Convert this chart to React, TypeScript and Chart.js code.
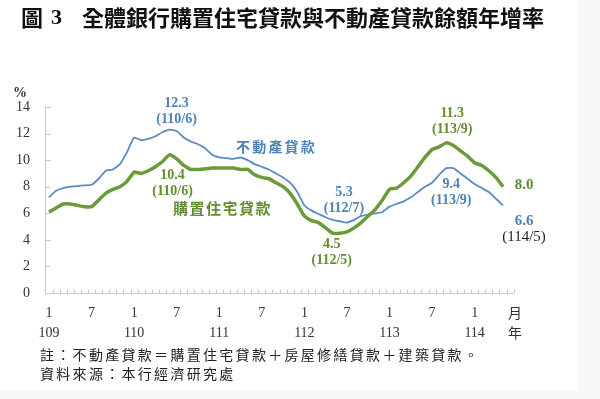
import React, { useEffect, useRef } from 'react';
import { Chart, registerables } from 'chart.js';

Chart.register(...registerables);

// ---- data ----
const years = ['109', '110', '111', '112', '113', '114'];
const lastYearMonths = 5; // data through 114/5

// 不動產貸款 (real-estate loans) yoy growth, %, monthly 109/1 – 114/5
const realEstateLoans = [
  7.2, 7.7, 7.9, 8.0, 8.05, 8.1, 8.15, 8.6, 9.2, 9.3,
  9.7, 10.6, 11.7, 11.5, 11.6, 11.8, 12.1, 12.3, 12.2, 11.7,
  11.4, 11.2, 10.9, 10.4, 10.2, 10.15, 10.1, 10.2, 10.0, 9.7,
  9.5, 9.3, 9.0, 8.7, 8.3, 7.6, 6.6, 6.2, 5.95, 5.7,
  5.5, 5.4, 5.3, 5.5, 5.8, 5.9, 6.0, 6.1, 6.5, 6.7,
  6.9, 7.2, 7.6, 8.0, 8.3, 8.9, 9.4, 9.4, 9.0, 8.6,
  8.2, 7.9, 7.6, 7.1, 6.6,
];

// 購置住宅貸款 (house-purchasing loans) yoy growth, %
const housingLoans = [
  6.1, 6.4, 6.7, 6.7, 6.6, 6.5, 6.5, 7.0, 7.5, 7.8,
  8.0, 8.4, 9.1, 9.0, 9.2, 9.5, 9.9, 10.4, 10.1, 9.6,
  9.3, 9.3, 9.35, 9.4, 9.4, 9.4, 9.4, 9.3, 9.3, 8.9,
  8.7, 8.6, 8.3, 8.0, 7.5, 6.7, 5.8, 5.45, 5.3, 4.9,
  4.5, 4.5, 4.6, 4.9, 5.3, 5.8, 6.3, 7.0, 7.8, 7.9,
  8.3, 8.8, 9.5, 10.2, 10.8, 11.0, 11.3, 11.1, 10.7, 10.3,
  9.8, 9.6, 9.2, 8.7, 8.0,
];

const yTicks = [0, 2, 4, 6, 8, 10, 12, 14];

const categories: string[] = [];
years.forEach((y, yi) => {
  const n = yi === years.length - 1 ? lastYearMonths : 12;
  for (let m = 1; m <= n; m++) categories.push(`${y}/${m}`);
});

const BLUE = '#5b8cc0';
const BLUE_TXT = '#4f80b6';
const GREEN = '#6a9b38';
const GREEN_TXT = '#5f8f30';

type Ann = { data: number[]; idx: number; lines: string[]; color: string[]; dx: number; dy: number };
const annotations: Ann[] = [
  { data: realEstateLoans, idx: 17, lines: ['12.3', '(110/6)'], color: [BLUE_TXT, BLUE_TXT], dx: 7, dy: -26 },
  { data: housingLoans, idx: 17, lines: ['10.4', '(110/6)'], color: [GREEN_TXT, GREEN_TXT], dx: 3, dy: 21 },
  { data: realEstateLoans, idx: 42, lines: ['5.3', '(112/7)'], color: [BLUE_TXT, BLUE_TXT], dx: -3, dy: -30 },
  { data: housingLoans, idx: 40, lines: ['4.5', '(112/5)'], color: [GREEN_TXT, GREEN_TXT], dx: -1, dy: 11 },
  { data: housingLoans, idx: 56, lines: ['11.3', '(113/9)'], color: [GREEN_TXT, GREEN_TXT], dx: 6, dy: -29 },
  { data: realEstateLoans, idx: 56, lines: ['9.4', '(113/9)'], color: [BLUE_TXT, BLUE_TXT], dx: 5, dy: 16 },
];

const decor = {
  id: 'decor',
  beforeDraw(chart: any) {
    const ctx = chart.ctx as CanvasRenderingContext2D;
    ctx.save();
    ctx.fillStyle = '#f6f7f9';
    ctx.fillRect(0, 0, chart.width, chart.height);
    ctx.fillStyle = '#ffffff';
    ctx.fillRect(0, 0, 578, 391);

    const xs = chart.scales.x;
    const ys = chart.scales.y;
    const step = xs.getPixelForValue(1) - xs.getPixelForValue(0);
    const x0 = xs.getPixelForValue(0) - step / 2;
    const x1 = x0 + step * (categories.length + 1);
    const yb = Math.round(ys.getPixelForValue(0)) + 0.5;
    const yt = ys.getPixelForValue(14);
    const xl = Math.round(x0) + 0.5;
    ctx.strokeStyle = '#c9c9c9';
    ctx.lineWidth = 1;
    ctx.beginPath();
    ctx.moveTo(xl, yt);
    ctx.lineTo(xl, yb);
    ctx.lineTo(x1, yb);
    ctx.stroke();
    ctx.beginPath();
    yTicks.forEach((v) => {
      const py = Math.round(ys.getPixelForValue(v)) + 0.5;
      ctx.moveTo(xl, py);
      ctx.lineTo(xl + 5, py);
    });
    for (let k = 0; k <= categories.length + 1; k++) {
      const px = Math.round(x0 + k * step) + 0.5;
      ctx.moveTo(px, yb);
      ctx.lineTo(px, yb - 4);
    }
    ctx.stroke();
    ctx.restore();
  },
  afterDraw(chart: any) {
    const ctx = chart.ctx as CanvasRenderingContext2D;
    const xs = chart.scales.x;
    const ys = chart.scales.y;
    const serif = '"Liberation Serif", "DejaVu Serif", serif';
    const cjk = '"Noto Sans CJK TC", "Noto Sans CJK SC", sans-serif';
    ctx.save();
    ctx.textBaseline = 'middle';

    // title
    ctx.fillStyle = '#111';
    ctx.textAlign = 'left';
    ctx.font = `bold 22px ${cjk}`;
    ctx.fillText('圖', 21, 18);
    ctx.font = `bold 22px ${serif}`;
    ctx.fillText('3', 51, 18);
    ctx.font = `bold 22px ${cjk}`;
    ctx.fillText('全體銀行購置住宅貸款與不動產貸款餘額年增率', 82, 18);

    // unit labels
    ctx.fillStyle = '#333';
    ctx.font = `bold 14px ${serif}`;
    ctx.textAlign = 'center';
    ctx.fillText('%', 20, 93);
    ctx.font = `14px ${cjk}`;
    ctx.fillText('月', 515, 313);
    ctx.fillText('年', 515, 333);

    // point annotations
    annotations.forEach((a) => {
      const px = xs.getPixelForValue(a.idx) + a.dx;
      const py = ys.getPixelForValue(a.data[a.idx]) + a.dy;
      a.lines.forEach((t, i) => {
        ctx.fillStyle = a.color[i];
        ctx.font = `bold 14px ${serif}`;
        ctx.fillText(t, px, py + i * 16);
      });
    });

    // end labels
    const last = categories.length - 1;
    const ex = xs.getPixelForValue(last) + 21;
    ctx.font = `bold 15px ${serif}`;
    ctx.fillStyle = GREEN_TXT;
    ctx.fillText(housingLoans[last].toFixed(1), ex, ys.getPixelForValue(housingLoans[last]) - 2);
    ctx.fillStyle = BLUE_TXT;
    ctx.fillText(realEstateLoans[last].toFixed(1), ex, ys.getPixelForValue(realEstateLoans[last]) + 16);
    ctx.fillStyle = '#222';
    ctx.font = `15px ${serif}`;
    ctx.fillText('(114/5)', ex, ys.getPixelForValue(realEstateLoans[last]) + 32);

    // series names
    ctx.textAlign = 'left';
    ctx.font = `bold 14px ${cjk}`;
    (ctx as any).letterSpacing = '2.2px';
    ctx.fillStyle = BLUE_TXT;
    ctx.fillText('不動產貸款', 236, 147);
    ctx.fillStyle = GREEN_TXT;
    ctx.font = `bold 15px ${cjk}`;
    (ctx as any).letterSpacing = '1.5px';
    ctx.fillText('購置住宅貸款', 173, 208);

    // footnotes
    ctx.fillStyle = '#222';
    ctx.font = `14px ${cjk}`;
    (ctx as any).letterSpacing = '2.3px';
    ctx.fillText('註：不動產貸款＝購置住宅貸款＋房屋修繕貸款＋建築貸款。', 40, 355);
    ctx.fillText('資料來源：本行經濟研究處', 40, 374);
    ctx.restore();
  },
};

export default function App() {
  const ref = useRef<HTMLCanvasElement | null>(null);
  useEffect(() => {
    if (!ref.current) return;
    const chart = new Chart(ref.current, {
      type: 'line',
      data: {
        labels: categories,
        datasets: [
          {
            label: '購置住宅貸款',
            data: housingLoans,
            borderColor: GREEN,
            borderWidth: 3.5,
            pointRadius: 0,
            tension: 0.15,
            order: 1,
          },
          {
            label: '不動產貸款',
            data: realEstateLoans,
            borderColor: BLUE,
            borderWidth: 1.8,
            pointRadius: 0,
            tension: 0.15,
            order: 2,
          },
        ],
      },
      options: {
        animation: false,
        responsive: false,
        devicePixelRatio: 1,
        layout: { padding: { top: 107, right: 97, bottom: 0, left: 0 } },
        plugins: { legend: { display: false }, tooltip: { enabled: false } },
        scales: {
          x: {
            type: 'category',
            offset: false,
            grid: { display: false, drawTicks: false },
            border: { display: false },
            ticks: {
              autoSkip: false,
              maxRotation: 0,
              minRotation: 0,
              padding: 10,
              color: '#333',
              font: { family: '"Liberation Serif", serif', size: 14, lineHeight: '20px' as any },
              callback: (_v: any, i: number) => {
                if (i % 12 === 0) return ['1', years[i / 12]];
                if (i % 12 === 6) return '7';
                return '';
              },
            },
            afterFit: (s: any) => {
              s.height = 106;
            },
          },
          y: {
            min: 0,
            max: 14,
            grid: { display: false, drawTicks: false },
            border: { display: false },
            ticks: {
              stepSize: 2,
              padding: 19,
              color: '#333',
              font: { family: '"Liberation Serif", serif', size: 14 },
            },
            afterFit: (s: any) => {
              s.width = 49;
            },
          },
        },
      },
      plugins: [decor],
    });
    return () => chart.destroy();
  }, []);
  return (
    <div style={{ position: 'absolute', left: 0, top: 0, width: 600, height: 399 }}>
      <canvas ref={ref} width={600} height={399} style={{ display: 'block', width: 600, height: 399 }} />
    </div>
  );
}
